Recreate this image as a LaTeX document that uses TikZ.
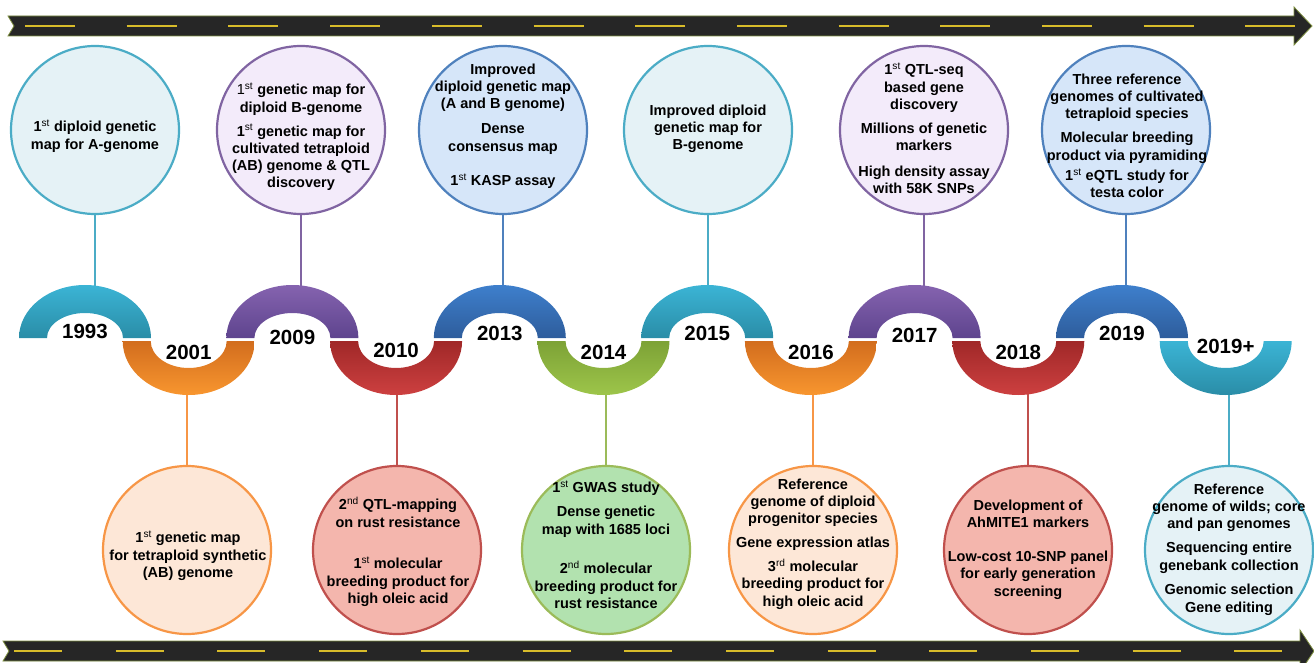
\documentclass[tikz,border=0pt]{standalone}
\usepackage{fontspec}
\setmainfont{Liberation Sans}
\definecolor{tealS}{HTML}{4BACC6}
\definecolor{tealF}{HTML}{E5F2F6}
\definecolor{purS}{HTML}{8064A2}
\definecolor{purF}{HTML}{F3EBFA}
\definecolor{bluS}{HTML}{4F81BD}
\definecolor{bluF}{HTML}{D6E6F9}
\definecolor{oraS}{HTML}{F79646}
\definecolor{oraF}{HTML}{FDE7D7}
\definecolor{redS}{HTML}{C0504D}
\definecolor{redF}{HTML}{F4B6AD}
\definecolor{grnS}{HTML}{9BBB59}
\definecolor{grnF}{HTML}{B2E2AF}
\definecolor{tealA}{HTML}{3BB4D5}
\definecolor{tealB}{HTML}{2A8DA7}
\definecolor{purA}{HTML}{8563AF}
\definecolor{purB}{HTML}{5E448E}
\definecolor{bluA}{HTML}{3E7FCC}
\definecolor{bluB}{HTML}{2E5D9C}
\definecolor{oraA}{HTML}{D26D1E}
\definecolor{oraB}{HTML}{F8962F}
\definecolor{redA}{HTML}{A02828}
\definecolor{redB}{HTML}{CD4040}
\definecolor{grnA}{HTML}{7DA236}
\definecolor{grnB}{HTML}{9DC54A}
\definecolor{roadF}{HTML}{262626}
\definecolor{roadE}{HTML}{7D8E40}
\definecolor{dashY}{HTML}{D8BC2A}
\newcommand\myst{\textsuperscript{\mdseries st}}
\newcommand\mynd{\textsuperscript{\mdseries nd}}
\newcommand\myrd{\textsuperscript{\mdseries rd}}
\newcommand\myTopArch[3]{%
  \path[top color=#2, bottom color=#3]
    ({#1-66},338) arc[start angle=180, end angle=0, x radius=66pt, y radius=53pt]
    -- ({#1+38},338) arc[start angle=0, end angle=180, x radius=38pt, y radius=25pt] -- cycle;}
\newcommand\myBotArch[3]{%
  \path[top color=#2, bottom color=#3]
    ({#1-66},341) arc[start angle=180, end angle=360, x radius=66pt, y radius=54pt]
    -- ({#1+38},341) arc[start angle=360, end angle=180, x radius=38pt, y radius=27pt] -- cycle;}
\begin{document}
\begin{tikzpicture}[x=1pt,y=-1pt,
  bub/.style={circle, minimum size=168pt, inner sep=0pt, line width=2.2pt},
  txt/.style={align=center, inner sep=0pt, anchor=north, font=\fontsize{14.5}{17.3}\selectfont\bfseries},
  yr/.style={inner sep=0pt, font=\fontsize{20.5}{20.5}\selectfont\bfseries},
  stem/.style={line width=2pt},
  road/.style={fill=roadF, draw=roadE, line width=0.8pt},
  dashline/.style={draw=dashY, line width=2pt}]
\useasboundingbox (0,0) rectangle (1314,663);
\clip (0,0) rectangle (1314,663);
% roads
\path[road] (8,16) -- (1294,16) -- (1294,7) -- (1312,26) -- (1294,45) -- (1294,36) -- (8,36) -- (14,26) -- cycle;
\foreach \i in {0,...,12} \draw[dashline] ({25+101.7*\i},26) -- ++(50,0);
\path[road] (3,641) -- (1300,641) -- (1300,630) -- (1314,651) -- (1300,672) -- (1300,661) -- (3,661) -- (9,651) -- cycle;
\foreach \i in {0,...,12} \draw[dashline] ({14+101.7*\i},651) -- ++(48,0);
% circles top
\node[bub, draw=tealS, fill=tealF] (c1993) at (95,130) {};
\node[bub, draw=purS, fill=purF] (c2009) at (301,130) {};
\node[bub, draw=bluS, fill=bluF] (c2013) at (503,130) {};
\node[bub, draw=tealS, fill=tealF] (c2015) at (708,130) {};
\node[bub, draw=purS, fill=purF] (c2017) at (924,130) {};
\node[bub, draw=bluS, fill=bluF] (c2019) at (1126,130) {};
% circles bottom
\node[bub, draw=oraS, fill=oraF] (c2001) at (187,550) {};
\node[bub, draw=redS, fill=redF] (c2010) at (397,550) {};
\node[bub, draw=grnS, fill=grnF] (c2014) at (606,550) {};
\node[bub, draw=oraS, fill=oraF] (c2016) at (813,550) {};
\node[bub, draw=redS, fill=redF] (c2018) at (1028,550) {};
\node[bub, draw=tealS, fill=tealF] (c2019p) at (1229,550) {};
% stem ends
\coordinate (a1993) at (95,292);
\coordinate (a2009) at (301,292);
\coordinate (a2013) at (503,292);
\coordinate (a2015) at (708,292);
\coordinate (a2017) at (924,292);
\coordinate (a2019) at (1126,292);
\coordinate (a2001) at (187,388);
\coordinate (a2010) at (397,388);
\coordinate (a2014) at (606,388);
\coordinate (a2016) at (813,388);
\coordinate (a2018) at (1028,388);
\coordinate (a2019p) at (1229,388);
\draw[stem, tealS] (c1993.south) -- (a1993);
\draw[stem, purS] (c2009.south) -- (a2009);
\draw[stem, bluS] (c2013.south) -- (a2013);
\draw[stem, tealS] (c2015.south) -- (a2015);
\draw[stem, purS] (c2017.south) -- (a2017);
\draw[stem, bluS] (c2019.south) -- (a2019);
\draw[stem, oraS] (c2001.north) -- (a2001);
\draw[stem, redS] (c2010.north) -- (a2010);
\draw[stem, grnS] (c2014.north) -- (a2014);
\draw[stem, oraS] (c2016.north) -- (a2016);
\draw[stem, redS] (c2018.north) -- (a2018);
\draw[stem, tealS] (c2019p.north) -- (a2019p);
% arches
\myTopArch{85}{tealA}{tealB}
\myBotArch{188.7}{oraA}{oraB}
\myTopArch{292.4}{purA}{purB}
\myBotArch{396.1}{redA}{redB}
\myTopArch{499.8}{bluA}{bluB}
\myBotArch{603.5}{grnA}{grnB}
\myTopArch{707.2}{tealA}{tealB}
\myBotArch{810.9}{oraA}{oraB}
\myTopArch{914.6}{purA}{purB}
\myBotArch{1018.3}{redA}{redB}
\myTopArch{1122}{bluA}{bluB}
\myBotArch{1225.7}{tealA}{tealB}
% year labels
\node[yr] (y1993) at (85,331) {1993};
\node[yr] (y2001) at (188.7,352) {2001};
\node[yr] (y2009) at (292.4,337) {2009};
\node[yr] (y2010) at (396.1,350) {2010};
\node[yr] (y2013) at (499.8,333) {2013};
\node[yr] (y2014) at (603.5,352) {2014};
\node[yr] (y2015) at (707.2,333) {2015};
\node[yr] (y2016) at (810.9,352) {2016};
\node[yr] (y2017) at (914.6,335) {2017};
\node[yr] (y2018) at (1018.3,352) {2018};
\node[yr] (y2019) at (1122,333) {2019};
\node[yr] (y2019p) at (1225.7,346) {2019+};
% texts top
\node[txt] (t1993) at (95,120) {1\myst{} diploid genetic\\map for A-genome};
\node[txt] (t2009) at (301,83) {{\mdseries 1}\myst{} genetic map for\\diploid B-genome\\[6.5pt]1\myst{} genetic map for\\cultivated tetraploid\\(AB) genome \& QTL\\discovery};
\node[txt] (t2013) at (503,63.6) {Improved\\diploid genetic map\\(A and B genome)\\[7.5pt]Dense\\consensus map\\[17.5pt]1\myst{} KASP assay};
\node[txt] (t2015) at (708,104.6) {Improved diploid\\genetic map for\\B-genome};
\node[txt] (t2017) at (924,63) {1\myst{} QTL-seq\\based gene\\discovery\\[6.5pt]Millions of genetic\\markers\\[8.5pt]High density assay\\with 58K SNPs};
\node[txt] (t2019) at (1127,73.6) {Three reference\\genomes of cultivated\\tetraploid species\\[6.5pt]Molecular breeding\\product via pyramiding\\[3pt]1\myst{} eQTL study for\\testa color};
% texts bottom
\node[txt] (t2001) at (188,531) {1\myst{} genetic map\\for tetraploid synthetic\\(AB) genome};
\node[txt] (t2010) at (398,497) {2\mynd{} QTL-mapping\\on rust resistance\\[24.5pt]1\myst{} molecular\\breeding product for\\high oleic acid};
\node[txt] (t2014) at (606,481) {1\myst{} GWAS study\\[6.5pt]Dense genetic\\map with 1685 loci\\[22.5pt]2\mynd{} molecular\\breeding product for\\rust resistance};
\node[txt] (t2016) at (813,478.6) {Reference\\genome of diploid\\progenitor species\\[6.5pt]Gene expression atlas\\[6.5pt]3\myrd{} molecular\\breeding product for\\high oleic acid};
\node[txt] (t2018) at (1028,499.6) {Development of\\AhMITE1 markers\\[16.5pt]Low-cost 10-SNP panel\\for early generation\\screening};
\node[txt] (t2019p) at (1229,483.6) {Reference\\genome of wilds; core\\and pan genomes\\[6.5pt]Sequencing entire\\genebank collection\\[7.5pt]Genomic selection\\Gene editing};
\end{tikzpicture}
\end{document}
